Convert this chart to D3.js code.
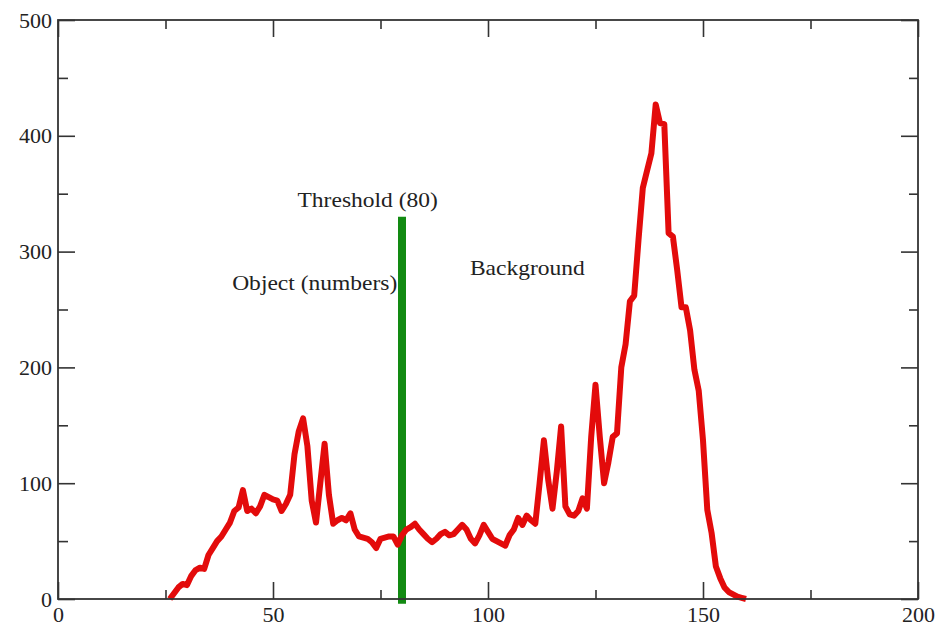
<!DOCTYPE html>
<html>
<head>
<meta charset="utf-8">
<script src="https://cdn.jsdelivr.net/npm/d3@7"></script>
<style>
  body { margin: 0; background: #fff; }
  text { font-family: "Liberation Serif", "DejaVu Serif", serif; fill: #222; }
</style>
</head>
<body>
<div id="chart"></div>
<script>
// grey levels (x) and pixel counts
const levels = d3.range(26, 161);
const counts = [
    0, 5, 10, 13, 12, 20, 25, 27, 26, 38,      // 26-35
    44, 50, 54, 60, 66, 76, 79, 94, 76, 78,    // 36-45
    74, 80, 90, 88, 86, 85, 76, 82, 90, 125,   // 46-55
    145, 156, 132, 85, 66, 100, 134, 90, 65, 68, // 56-65
    70, 68, 74, 60, 54, 53, 52, 49, 44, 52,    // 66-75
    53, 54, 54, 47, 55, 60, 62, 65, 60, 56,    // 76-85
    52, 49, 52, 56, 58, 55, 56, 60, 64, 60,    // 86-95
    52, 48, 55, 64, 58, 52, 50, 48, 46, 55,    // 96-105
    60, 70, 64, 72, 68, 65, 100, 137, 103, 78, // 106-115
    110, 149, 80, 73, 72, 76, 87, 78, 140, 185, // 116-125
    140, 100, 118, 140, 143, 200, 220, 257, 262, 310, // 126-135
    355, 370, 385, 427, 411, 410, 316, 313, 284, 252, // 136-145
    252, 232, 198, 180, 137, 77, 57, 28, 18, 10, // 146-155
    6, 4, 2, 1, 0                               // 156-160
];

const threshold = 80;
const thresholdTop = 330;

const xTicks = [0, 50, 100, 150, 200];
const xMinor = [25, 75, 125, 175];
const yTicks = [0, 100, 200, 300, 400, 500];
const yMinor = [50, 150, 250, 350, 450];

const labels = [
    {text: "Threshold (80)", x: 55.7, y: 338.5},
    {text: "Object (numbers)", x: 40.5, y: 267},
    {text: "Background", x: 95.8, y: 280}
];

// Set up dimensions
const margin = {top: 20, right: 19, bottom: 28, left: 58},
    width = 937 - margin.left - margin.right,
    height = 627 - margin.top - margin.bottom;

const svg = d3.select("#chart").append("svg")
    .attr("width", 937)
    .attr("height", 627)
    .append("g")
        .attr("transform", "translate(" + margin.left + "," + margin.top + ")");

// Scales
const x = d3.scaleLinear().domain([0, 200]).range([0, width]);
const y = d3.scaleLinear().domain([0, 500]).range([height, 0]);

// Threshold bar (drawn under the curve)
svg.append("line")
    .attr("x1", x(threshold)).attr("x2", x(threshold))
    .attr("y1", y(-4)).attr("y2", y(thresholdTop))
    .attr("stroke", "#128a12")
    .attr("stroke-width", 8);

// Histogram line
const line = d3.line()
    .x((d, i) => x(levels[i]))
    .y(d => y(d));

svg.append("path")
    .datum(counts)
    .attr("fill", "none")
    .attr("stroke", "#e30b0b")
    .attr("stroke-width", 6)
    .attr("stroke-linejoin", "round")
    .attr("d", line);

// Frame and inward ticks on all four sides
function styleAxis(g) {
    g.select(".domain").remove();
    g.selectAll("line").attr("stroke", "#333").attr("stroke-width", 1.6);
    g.selectAll("text")
        .style("font-family", "'Liberation Serif', serif")
        .style("font-size", "22px")
        .attr("fill", "#222");
}

svg.append("g")
    .attr("transform", "translate(0," + height + ")")
    .call(d3.axisBottom(x).tickValues(xTicks).tickSize(-17).tickPadding(7).tickFormat(d3.format("d")))
    .call(styleAxis);
svg.append("g")
    .attr("transform", "translate(0," + height + ")")
    .call(d3.axisBottom(x).tickValues(xMinor).tickSize(-9).tickFormat(""))
    .call(styleAxis);
svg.append("g")
    .call(d3.axisTop(x).tickValues(xTicks).tickSize(-17).tickFormat(""))
    .call(styleAxis);
svg.append("g")
    .call(d3.axisTop(x).tickValues(xMinor).tickSize(-9).tickFormat(""))
    .call(styleAxis);

svg.append("g")
    .call(d3.axisLeft(y).tickValues(yTicks).tickSize(-17).tickPadding(6).tickFormat(d3.format("d")))
    .call(styleAxis);
svg.append("g")
    .call(d3.axisLeft(y).tickValues(yMinor).tickSize(-10).tickFormat(""))
    .call(styleAxis);
svg.append("g")
    .attr("transform", "translate(" + width + ",0)")
    .call(d3.axisRight(y).tickValues(yTicks).tickSize(-17).tickFormat(""))
    .call(styleAxis);
svg.append("g")
    .attr("transform", "translate(" + width + ",0)")
    .call(d3.axisRight(y).tickValues(yMinor).tickSize(-9).tickFormat(""))
    .call(styleAxis);

svg.append("rect")
    .attr("width", width)
    .attr("height", height)
    .attr("fill", "none")
    .attr("stroke", "#333")
    .attr("stroke-width", 1.8);

// Annotations
svg.selectAll(".note")
    .data(labels)
    .join("text")
        .attr("class", "note")
        .attr("transform", d => "translate(" + x(d.x) + "," + y(d.y) + ") scale(1.12,1)")
        .style("font-size", "21px")
        .text(d => d.text);
</script>
</body>
</html>
